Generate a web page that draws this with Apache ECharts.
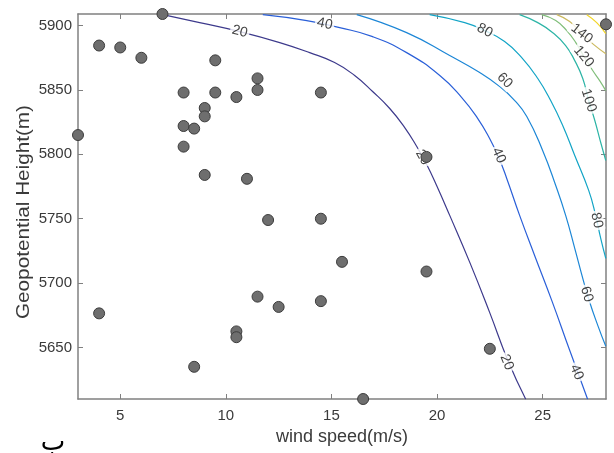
<!DOCTYPE html>
<html><head><meta charset="utf-8">
<script src="https://cdn.jsdelivr.net/npm/echarts@6/dist/echarts.min.js"></script>
<style>html,body{margin:0;padding:0;background:#fff}#c{width:614px;height:453px}</style>
</head><body><div id="c"></div>
<script>
// ---- data ----
const xRange = [3, 28];
const yRange = [5610, 5909];
const xTicks = [5, 10, 15, 20, 25];
const yTicks = [5650, 5700, 5750, 5800, 5850, 5900];

const windSpeed = [7, 4, 5, 6, 9.5, 8, 9.5, 10.5, 11.5, 11.5, 14.5, 9, 9, 8, 8.5, 8, 3, 9, 11, 12, 14.5, 28, 19.5,
                   4, 8.5, 10.5, 10.5, 11.5, 12.5, 14.5, 15.5, 19.5, 22.5, 16.5];
const geoHeight = [5909, 5884.5, 5883, 5875, 5873, 5848, 5848, 5844.5, 5859, 5850, 5848, 5836, 5829.5, 5822, 5820, 5806, 5815, 5784, 5781, 5749, 5750, 5901, 5798,
                   5676.5, 5635, 5662.5, 5658, 5689.5, 5681.5, 5686, 5716.5, 5709, 5649, 5610];

const levels = [20, 40, 60, 80, 100, 120, 140, 160];
const contour20 = [[7.02,5908.5],[8.76,5902.3],[10.66,5895.3],[12.55,5886.8],[13.97,5879.0],[15.15,5871.3],[16.10,5861.2],[16.95,5848.8],[17.76,5835.6],[18.47,5820.8],[19.04,5806.1],[19.51,5792.1],[19.98,5775.8],[20.60,5752.6],[21.55,5716.1],[22.49,5677.3],[23.35,5640.1],[24.20,5609.8]];
const contour40 = [[11.75,5908.5],[13.83,5903.9],[15.39,5898.4],[16.95,5891.4],[18.56,5879.0],[20.13,5861.2],[21.17,5844.1],[21.93,5827.8],[22.49,5812.3],[22.92,5797.6],[23.30,5781.3],[23.91,5752.6],[24.62,5721.5],[25.43,5686.6],[26.28,5647.8],[27.13,5609.8]];
const contour60 = [[16.20,5908.5],[18.56,5894.5],[20.60,5876.7],[22.02,5863.5],[22.97,5852.6],[23.68,5841.8],[24.25,5829.4],[25.00,5803.0],[25.62,5775.8],[26.09,5752.6],[26.52,5727.0],[26.90,5703.7],[27.23,5685.1],[27.61,5667.2],[27.99,5650.9]];
const contour80 = [[19.65,5908.5],[21.31,5902.3],[22.26,5896.1],[23.20,5887.6],[24.01,5875.1],[24.77,5858.9],[25.38,5841.8],[25.95,5822.4],[26.52,5799.1],[27.18,5772.0],[27.51,5752.6],[27.75,5734.7],[27.99,5719.2]];
const contour100 = [[23.91,5908.5],[24.77,5902.3],[25.48,5894.5],[26.09,5884.5],[26.52,5872.8],[26.90,5858.9],[27.18,5841.8],[27.47,5826.3],[27.75,5809.2],[27.99,5795.2]];
const contour120 = [[24.96,5908.5],[25.62,5903.9],[26.14,5896.1],[26.57,5886.8],[26.99,5875.1],[27.37,5865.1],[27.70,5857.3],[27.99,5849.5]];
const contour140 = [[25.67,5908.5],[26.28,5903.1],[26.85,5893.8],[27.42,5885.2],[27.99,5878.2]];
const contour160 = [[27.09,5908.5],[27.56,5902.3],[27.99,5893.8]];
const contours = [contour20, contour40, contour60, contour80, contour100, contour120, contour140, contour160];

const labelLevels = [20, 20, 20, 40, 40, 40, 60, 60, 80, 80, 100, 120, 140];
const labelX = [10.66, 19.32, 23.30, 14.68, 22.92, 26.61, 23.20, 27.09, 22.26, 27.56, 27.18, 26.94, 26.85];
const labelY = [5895.3, 5797.6, 5638.5, 5901.3, 5799.1, 5630.8, 5857.3, 5691.3, 5896.1, 5748.7, 5841.8, 5875.9, 5893.8];
const labelAngles = [-15, -60, -68, -12, -66, -66, -45, -72, -28, -78, -72, -50, -38];

// ---- styles ----
const levelColors = ['#3d3a8c', '#2a5fd8', '#1c86d6', '#12a4c6', '#2cb4a6', '#80be7a', '#cbb95e', '#f2d52a'];
const axisColor = '#808080';
const textColor = '#3a3a3a';
const font = '"Liberation Sans", Arial, sans-serif';

const series = [];
contours.forEach((c, i) => {
  series.push({
    type: 'line', data: c, smooth: 0.5, symbol: 'none', z: 2,
    lineStyle: { color: levelColors[i], width: 1.2 }, silent: true, animation: false
  });
});
series.push({
  type: 'scatter', z: 3, symbol: 'circle', symbolSize: 1, animation: false, silent: true, clip: false,
  itemStyle: { color: 'rgba(0,0,0,0)' },
  data: labelLevels.map((lv, i) => ({
    value: [labelX[i], labelY[i]],
    label: { show: true, formatter: String(lv), rotate: labelAngles[i], position: 'inside',
      fontSize: 14, fontFamily: font, color: '#111', backgroundColor: '#fff', padding: [0, 2] }
  }))
});
series.push({
  type: 'scatter', z: 4, symbol: 'circle', symbolSize: 11, clip: false, animation: false,
  itemStyle: { color: '#6e6e6e', borderColor: '#3c3c3c', borderWidth: 1, opacity: 1 },
  data: windSpeed.map((w, i) => [w, geoHeight[i]])
});

const baseX = {
  type: 'value', min: xRange[0], max: xRange[1],
  axisLine: { show: true, onZero: false, lineStyle: { color: axisColor, width: 1.5 } },
  axisTick: { show: true, inside: true, length: 5, customValues: xTicks, lineStyle: { color: axisColor } },
  splitLine: { show: false }
};
const baseY = {
  type: 'value', min: yRange[0], max: yRange[1],
  axisLine: { show: true, onZero: false, lineStyle: { color: axisColor, width: 1.5 } },
  axisTick: { show: true, inside: true, length: 5, customValues: yTicks, lineStyle: { color: axisColor } },
  splitLine: { show: false }
};

const chart = echarts.init(document.getElementById('c'), null, { renderer: 'canvas' });
chart.setOption({
  animation: false,
  backgroundColor: '#fff',
  grid: { left: 78, right: 8, top: 14, bottom: 54, containLabel: false, outerBoundsMode: 'none' },
  xAxis: [
    Object.assign({}, baseX, { position: 'bottom',
      axisLabel: { show: true, customValues: xTicks, margin: 9, fontSize: 15, fontFamily: font, color: textColor,
        formatter: v => String(v) } }),
    Object.assign({}, baseX, { position: 'top', axisLabel: { show: false } })
  ],
  yAxis: [
    Object.assign({}, baseY, { position: 'left',
      axisLabel: { show: true, customValues: yTicks, margin: 6, fontSize: 15, fontFamily: font, color: textColor,
        formatter: v => String(v) } }),
    Object.assign({}, baseY, { position: 'right', axisLabel: { show: false } })
  ],
  series: series,
  graphic: [
    { type: 'text', x: 342, y: 437, silent: true,
      style: { text: 'wind speed(m/s)', font: '18px ' + font, fill: textColor, align: 'center', verticalAlign: 'middle' } },
    { type: 'text', x: 24, y: 212, rotation: Math.PI / 2, scaleX: 1.15, silent: true,
      style: { text: 'Geopotential Height(m)', font: '18px ' + font, fill: textColor, align: 'center', verticalAlign: 'middle' } },
    { type: 'text', x: 53, y: 443, silent: true,
      style: { text: 'ب', font: '26px "DejaVu Sans", sans-serif', fill: '#000', align: 'center', verticalAlign: 'middle' } }
  ]
});
</script></body></html>
